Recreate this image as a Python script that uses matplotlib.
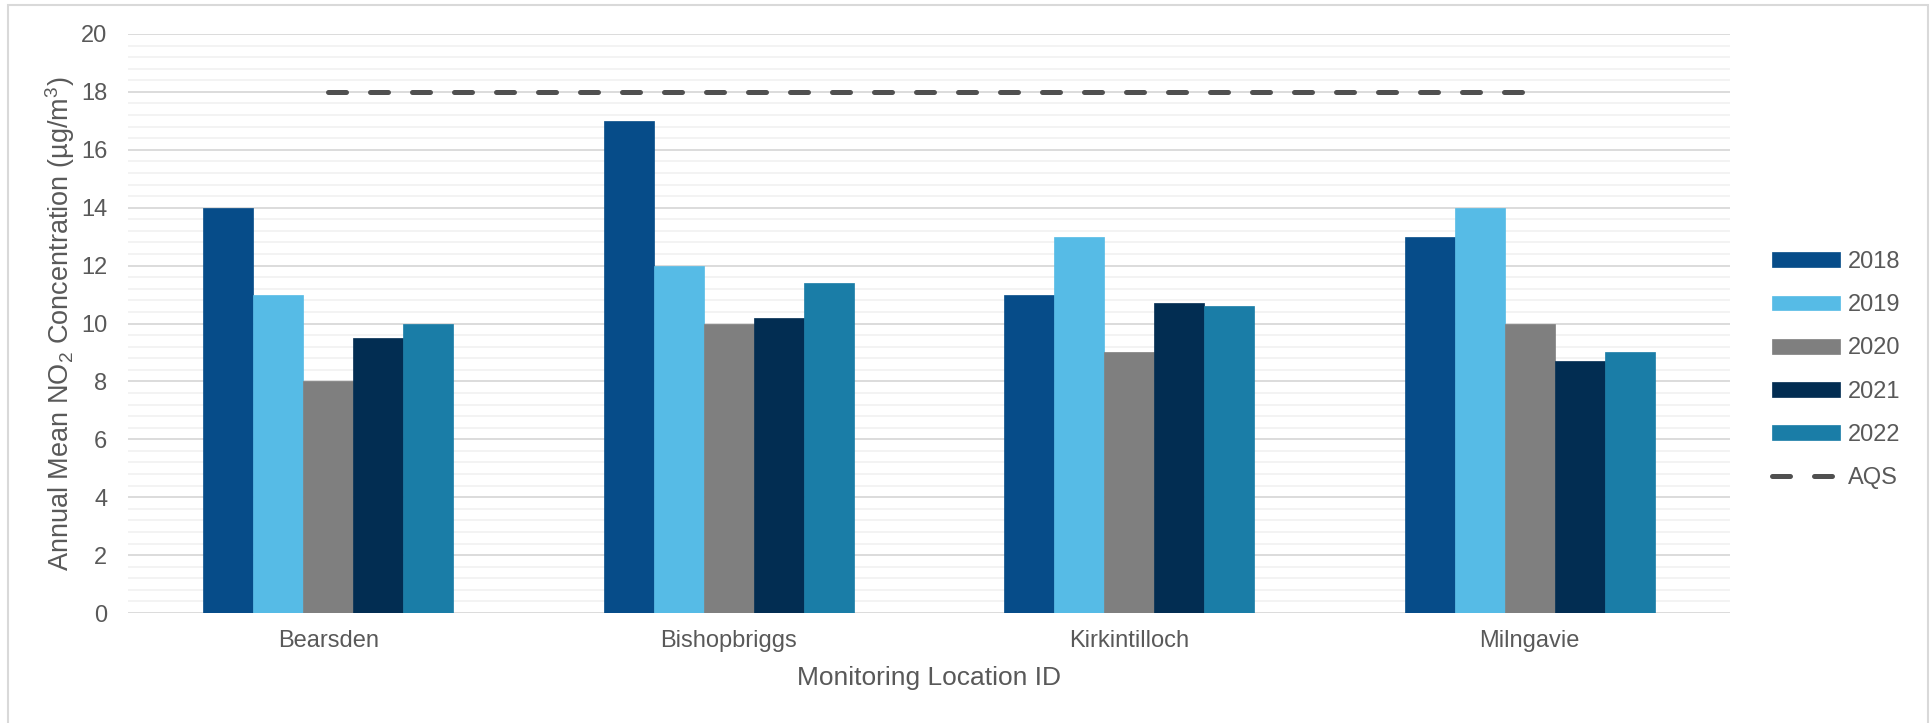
import numpy as np
import matplotlib.pyplot as plt
from matplotlib.ticker import MultipleLocator

plt.rcParams['font.family'] = ['Liberation Sans', 'DejaVu Sans']
plt.rcParams['mathtext.default'] = 'regular'

# annual mean NO2 per site and year
locations = ['Bearsden', 'Bishopbriggs', 'Kirkintilloch', 'Milngavie']
years = ['2018', '2019', '2020', '2021', '2022']
no2_2018 = [14, 17, 11, 13]
no2_2019 = [11, 12, 13, 14]
no2_2020 = [8, 10, 9, 10]
no2_2021 = [9.5, 10.2, 10.7, 8.7]
no2_2022 = [10, 11.4, 10.6, 9]
aqs_value = 18

series = [no2_2018, no2_2019, no2_2020, no2_2021, no2_2022]
colors = ['#064c89', '#56bbe6', '#7f7f7f', '#022d52', '#1a7da7']
text_col = '#595959'

fig = plt.figure(figsize=(19.3, 7.23), dpi=100)
ax = fig.add_axes([128 / 1930, 1 - 613 / 723, 1602 / 1930, 579 / 723])

x = np.arange(len(locations))
width = 0.125
handles = []
for i, (vals, yr, c) in enumerate(zip(series, years, colors)):
    b = ax.bar(x + (i - 2) * width, vals, width, color=c, label=yr, zorder=3,
               edgecolor=c, linewidth=0.5)
    handles.append(b)

# air quality standard line across the sites
aqs_line, = ax.plot([x[0], x[-1]], [aqs_value, aqs_value], color='#505050',
                    lw=3.6, linestyle=(0, (3.6, 4.8)), dash_capstyle='round',
                    zorder=4, label='AQS')
handles.append(aqs_line)

ax.set_xlim(-0.5, len(locations) - 0.5)
ax.set_ylim(0, 20)
ax.yaxis.set_major_locator(MultipleLocator(2))
ax.yaxis.set_minor_locator(MultipleLocator(0.4))
ax.grid(which='major', axis='y', color='#d9d9d9', lw=1.3, zorder=0)
ax.grid(which='minor', axis='y', color='#f2f2f2', lw=1.3, zorder=0)
ax.set_axisbelow(True)
for s in ax.spines.values():
    s.set_visible(False)

ax.set_xticks(x)
ax.set_xticklabels(locations)
ax.tick_params(axis='both', which='both', length=0, labelsize=17,
               labelcolor=text_col)
ax.tick_params(axis='y', pad=15)
ax.tick_params(axis='x', pad=12)

ax.set_ylabel('Annual Mean NO$_2$ Concentration (µg/m$^3$)', fontsize=19.5,
              color=text_col, labelpad=3)
ax.set_xlabel('Monitoring Location ID', fontsize=19, color=text_col,
              labelpad=10)

leg = fig.legend(handles, years + ['AQS'], loc='upper left',
                 bbox_to_anchor=(1772 / 1930, 1 - 251 / 723),
                 frameon=False, fontsize=17, handlelength=2.9,
                 handleheight=0.58, handletextpad=0.3, labelspacing=0.9,
                 borderaxespad=0, borderpad=0)
for t in leg.get_texts():
    t.set_color(text_col)

# light chart border
fig.add_artist(plt.Rectangle((8 / 1930, -0.05), 1920 / 1930, 1.05 - 5 / 723,
                             transform=fig.transFigure, fill=False,
                             edgecolor='#d9d9d9', lw=1.5))

fig.savefig('out.png', dpi=100, facecolor='white')
